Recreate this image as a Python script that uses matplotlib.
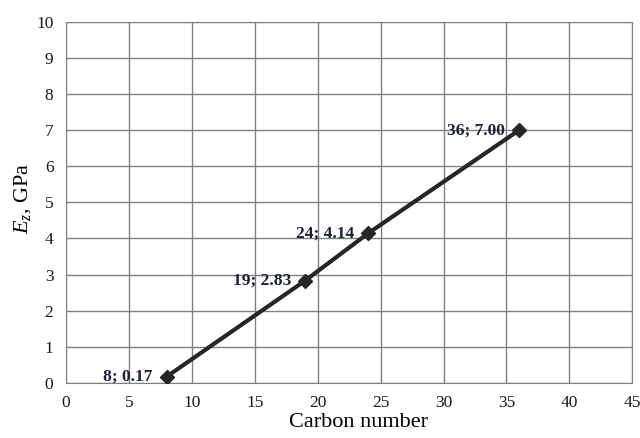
import matplotlib
matplotlib.use("Agg")
import matplotlib.pyplot as plt

carbon = [8, 19, 24, 36]
ez = [0.17, 2.83, 4.14, 7.00]
labels = ["8; 0.17", "19; 2.83", "24; 4.14", "36; 7.00"]
xticks = [0, 5, 10, 15, 20, 25, 30, 35, 40, 45]
yticks = list(range(0, 11))

plt.rcParams['font.family'] = ['Liberation Serif', 'DejaVu Serif']
plt.rcParams['mathtext.fontset'] = 'custom'
plt.rcParams['mathtext.rm'] = 'Liberation Serif'
plt.rcParams['mathtext.it'] = 'Liberation Serif:italic'

fig = plt.figure(figsize=(6.4, 4.38), dpi=100)
ax = fig.add_axes([0.103, 0.126, 0.885, 0.824])

ax.plot(carbon, ez, color='#262626', lw=3, marker='D', ms=7, mfc='#262626', mec='#262626', zorder=3)
for x, y, t in zip(carbon, ez, labels):
    ax.annotate(t, (x, y), xytext=(-10, 0), textcoords='offset points', ha='right', va='center',
                fontsize=12.5, fontweight='bold', color='#1a2238', zorder=4)

ax.set_xlim(0, 45)
ax.set_ylim(0, 10)
ax.set_xticks(xticks)
ax.set_yticks(yticks)
ax.grid(True, color='#808080', lw=1)
ax.set_axisbelow(True)
for s in ax.spines.values():
    s.set_color('#808080')
ax.tick_params(length=0, labelsize=12.5, pad=9, colors='#1a1a1a')
ax.set_xlabel('Carbon number', fontsize=16)
ax.xaxis.set_label_coords(0.516, -0.085)
ax.set_ylabel('$E_z$, GPa', fontsize=16)
ax.yaxis.set_label_coords(-0.058, 0.51)

fig.savefig('out.png', dpi=100)
